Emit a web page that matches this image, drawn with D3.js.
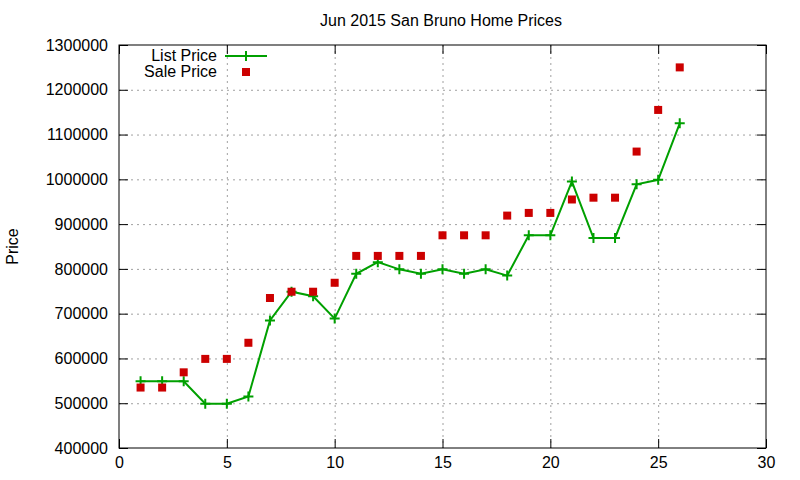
<!DOCTYPE html>
<html>
<head>
<meta charset="utf-8">
<script src="https://cdn.jsdelivr.net/npm/d3@7"></script>
<style>
  body { margin: 0; background: #fff; }
  svg text { font-family: "Liberation Sans", Arial, sans-serif; }
</style>
</head>
<body>
<div id="chart"></div>
<script>
// ── Jun 2015 San Bruno Home Prices ─────────────────

const days = [1, 2, 3, 4, 5, 6, 7, 8, 9, 10, 11, 12, 13, 14, 15, 16, 17, 18, 19, 20, 21, 22, 23, 24, 25, 26];
const listPrice = [549000, 549000, 549000, 499000, 499000, 515000, 685000, 749000, 739000, 689000,
    789000, 815000, 799000, 789000, 799000, 789000, 799000, 785000, 875000, 875000,
    995000, 869000, 869000, 989000, 999000, 1125000];
const salePrice = [535000, 535000, 569000, 599000, 599000, 635000, 735000, 749000, 749000, 769000,
    829000, 829000, 829000, 829000, 875000, 875000, 875000, 919000, 925000, 925000,
    955000, 959000, 959000, 1062000, 1155000, 1250000];
const xTicks = [0, 5, 10, 15, 20, 25, 30];
const yTicks = [400000, 500000, 600000, 700000, 800000, 900000, 1000000, 1100000, 1200000, 1300000];

const width = 800, height = 480;
const plotLeft = 119, plotRight = 766, plotTop = 45, plotBottom = 448;
const fontSize = '16px';

const svg = d3.select('#chart')
    .append('svg')
    .attr('width', width)
    .attr('height', height);

const x = d3.scaleLinear().domain([0, 30]).range([plotLeft, plotRight]);
const y = d3.scaleLinear().domain([400000, 1300000]).range([plotBottom, plotTop]);

// Grid
const grid = svg.append('g')
    .attr('stroke', '#a0a0a0')
    .attr('stroke-width', 1)
    .attr('stroke-dasharray', '2,4');
grid.selectAll('.gx')
    .data(xTicks.slice(1, -1))
    .join('line')
    .attr('x1', d => x(d) + 0.5).attr('x2', d => x(d) + 0.5)
    .attr('y1', plotTop).attr('y2', plotBottom);
grid.selectAll('.gy')
    .data(yTicks.slice(1, -1))
    .join('line')
    .attr('x1', plotLeft).attr('x2', plotRight)
    .attr('y1', d => y(d) + 0.5).attr('y2', d => y(d) + 0.5);

// Axes (ticks inward, mirrored)
const tick = 9;
svg.append('g')
    .attr('transform', `translate(0,${plotBottom})`)
    .call(d3.axisBottom(x).tickValues(xTicks).tickSize(-tick).tickPadding(9).tickFormat(d3.format('d')))
    .call(g => g.select('.domain').remove());
svg.append('g')
    .attr('transform', `translate(0,${plotTop})`)
    .call(d3.axisTop(x).tickValues(xTicks).tickSize(-tick).tickFormat(''))
    .call(g => g.select('.domain').remove());
svg.append('g')
    .attr('transform', `translate(${plotLeft},0)`)
    .call(d3.axisLeft(y).tickValues(yTicks).tickSize(-tick).tickPadding(11).tickFormat(d3.format('d')))
    .call(g => g.select('.domain').remove());
svg.append('g')
    .attr('transform', `translate(${plotRight},0)`)
    .call(d3.axisRight(y).tickValues(yTicks).tickSize(-tick).tickFormat(''))
    .call(g => g.select('.domain').remove());

svg.selectAll('.tick line').attr('stroke', '#000').attr('stroke-width', 1);
svg.selectAll('.tick text')
    .attr('font-size', fontSize)
    .attr('fill', '#000')
    .style('font-family', '"Liberation Sans", Arial, sans-serif');

svg.append('rect')
    .attr('x', plotLeft).attr('y', plotTop)
    .attr('width', plotRight - plotLeft).attr('height', plotBottom - plotTop)
    .attr('fill', 'none')
    .attr('stroke', '#000')
    .attr('stroke-width', 1);

// Title and label
svg.append('text')
    .attr('x', 441).attr('y', 26)
    .attr('text-anchor', 'middle')
    .attr('font-size', fontSize)
    .text('Jun 2015 San Bruno Home Prices');
svg.append('text')
    .attr('transform', `translate(18,${(plotTop + plotBottom) / 2}) rotate(-90)`)
    .attr('text-anchor', 'middle')
    .attr('font-size', fontSize)
    .text('Price');

const green = '#00a000', red = '#cc0000';
const listData = days.map((d, i) => ({ day: d, v: listPrice[i] }));
const saleData = days.map((d, i) => ({ day: d, v: salePrice[i] }));

// List price line
svg.append('path')
    .datum(listData)
    .attr('fill', 'none')
    .attr('stroke', green)
    .attr('stroke-width', 2)
    .attr('d', d3.line().x(d => x(d.day)).y(d => y(d.v)));

function plus(g, cx, cy) {
    g.append('path')
        .attr('d', `M${cx - 5},${cy}H${cx + 5}M${cx},${cy - 5}V${cy + 5}`)
        .attr('stroke', green)
        .attr('stroke-width', 2);
}
const plusG = svg.append('g');
listData.forEach(d => plus(plusG, x(d.day), y(d.v)));

// Sale price squares
const sq = 8;
svg.append('g')
    .selectAll('rect')
    .data(saleData)
    .join('rect')
    .attr('x', d => x(d.day) - sq / 2)
    .attr('y', d => y(d.v) - sq / 2)
    .attr('width', sq)
    .attr('height', sq)
    .attr('fill', red);

// Legend
svg.append('text')
    .attr('x', 217).attr('y', 61)
    .attr('text-anchor', 'end')
    .attr('font-size', fontSize)
    .text('List Price');
svg.append('line')
    .attr('x1', 225).attr('x2', 267)
    .attr('y1', 56).attr('y2', 56)
    .attr('stroke', green).attr('stroke-width', 2);
plus(svg, 246, 56);
svg.append('text')
    .attr('x', 217).attr('y', 77)
    .attr('text-anchor', 'end')
    .attr('font-size', fontSize)
    .text('Sale Price');
svg.append('rect')
    .attr('x', 246 - sq / 2).attr('y', 72 - sq / 2)
    .attr('width', sq).attr('height', sq)
    .attr('fill', red);
</script>
</body>
</html>
